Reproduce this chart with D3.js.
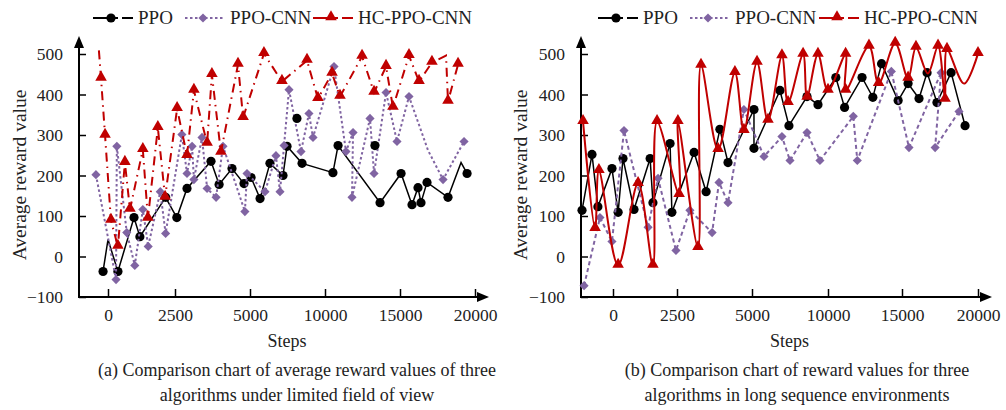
<!DOCTYPE html>
<html>
<head>
<meta charset="utf-8">
<script src="https://cdn.jsdelivr.net/npm/d3@7"></script>
<style>
  body { margin: 0; background: #fff; }
  text { font-family: "Liberation Serif", "Times New Roman", serif; fill: #222; }
</style>
</head>
<body>
<svg id="chart" width="1006" height="410"></svg>
<script>
// step ticks (axis is piecewise, not linear)
const stepTicks = [0, 2500, 5000, 10000, 15000, 20000];
const rewardTicks = [-100, 0, 100, 200, 300, 400, 500];
const seriesNames = ['PPO', 'PPO-CNN', 'HC-PPO-CNN'];

// panel (a) - limited field of view; third item 0 = no marker
const ppoA = [[-185,-37],[0,42,0],[370,-37],[970,96],[1190,49],[2150,146],[2560,96],[2900,168],[3700,235],[3970,178],[4400,217],[4800,180],[5070,195],[5670,143],[6330,230],[7200,200],[7470,272],[8470,230],[10530,207],[10870,274],[13670,133],[15070,205],[15800,128],[16200,170],[16400,133],[16800,183],[18200,146],[19070,232,0],[19470,205]];
const ppoLooseA = [[8130,341],[13330,274]];
const ppoCnnA = [[-450,202],[300,-57],[330,272],[700,59],[1000,-22],[1300,116],[1500,25],[1950,160],[2150,57],[2730,301],[2900,205],[3070,272],[3130,190],[3400,294],[3570,168],[3870,146],[4100,272],[4830,111],[4900,205],[6000,160],[6730,249],[7000,160],[7270,274],[7600,412],[8400,259],[8930,353],[9200,294],[10600,469],[11400,259],[11870,306],[11800,146],[13000,341],[13270,205],[14070,405],[14800,284],[15600,395],[16870,262,0],[17870,190],[19270,284]];
const hcA = [[-340,509,0],[-260,440],[-110,299],[110,89],[370,25],[630,232],[820,116],[1300,264],[1490,94],[1860,318],[2130,146],[2570,365],[2900,249],[3130,410],[3570,279],[3730,449],[4030,257],[4600,474],[4770,343],[5930,501],[7130,432],[8800,484],[9530,390],[10470,452],[11000,395],[12470,494],[13270,405],[14070,469],[14530,368],[15600,496],[16270,432],[17130,479],[18070,496,0],[18200,383],[18870,474]];

// panel (b) - long sequence environments
const ppoB = [[-1210,114],[-820,252],[-590,123],[-40,217],[200,109],[390,242],[820,116],[1450,242],[1560,133],[2230,279],[2300,109],[3070,257],[3470,160],[3930,314],[4200,232],[5130,363],[5130,267],[6840,410],[7430,323],[8620,395],[9340,375],[10530,442],[11120,368],[12300,442],[13030,393],[13620,476],[14740,385],[15400,427],[16120,390],[16650,454],[17300,380],[18230,454],[19150,323]];
const ppoCnnB = [[-1130,-72],[-510,96],[-40,37],[430,311],[1370,72],[1760,193],[2460,15],[2930,114],[3670,59],[3900,183],[4200,133],[4730,363],[5790,247],[6970,296],[7500,237],[8620,306],[9470,237],[11710,346],[11980,237],[14280,457],[15460,269],[17570,454],[17180,269],[18750,358]];
const hcB = [[-1170,333],[-700,69],[-550,212],[200,-22],[980,180],[1560,-22],[1720,333],[2570,153],[2530,333],[3200,22],[3300,472],[3870,264],[4430,454],[4730,311],[5330,479],[6050,336],[6970,495],[7370,380],[8360,499],[8620,393],[9340,499],[10000,410],[11190,499],[11190,410],[12770,519],[13420,427],[14540,526],[15400,440],[15920,516],[16700,452,0],[17370,519],[17830,388],[17960,511],[19080,427,0],[20000,501]];

const captionA = ['(a) Comparison chart of average reward values of three', 'algorithms under limited field of view'];
const captionB = ['(b) Comparison chart of reward values for three', 'algorithms in long sequence environments'];

const svg = d3.select('#chart');
const black = '#000', purple = '#8064a2', red = '#c00000';

const styles = [
  { color: black, width: 1.5, legendDash: '25,4,11', marker: 'circle' },
  { color: purple, width: 2, legendDash: '2.5,2.5', marker: 'diamond' },
  { color: red, width: 2, legendDash: '25,4,11', marker: 'triangle' }
];

function addMarker(g, kind, color, x, y) {
  if (kind === 'circle') {
    g.append('circle').attr('cx', x).attr('cy', y).attr('r', 4.6).attr('fill', color);
  } else if (kind === 'diamond') {
    g.append('path').attr('d', d3.symbol(d3.symbolSquare, 42)())
      .attr('transform', `translate(${x},${y}) rotate(45)`).attr('fill', color);
  } else {
    g.append('path').attr('d', d3.symbol(d3.symbolTriangle, 58)())
      .attr('transform', `translate(${x},${y - 1})`).attr('fill', color);
  }
}

function panel(cfg) {
  const g = svg.append('g');
  const x = d3.scaleLinear().domain(stepTicks).range(cfg.xr);
  const y = d3.scaleLinear().domain([-100, 500]).range([297, 54]);
  const x0 = cfg.axisX;

  // axes
  g.append('g').attr('transform', 'translate(0,297)')
    .call(d3.axisBottom(x).tickValues(stepTicks).tickFormat(d3.format('d'))
      .tickSizeInner(-8).tickSizeOuter(0).tickPadding(12))
    .call(a => a.select('.domain').remove())
    .call(a => a.selectAll('line').attr('stroke', black).attr('stroke-width', 1.5))
    .call(a => a.selectAll('text').attr('font-size', 17.5).attr('fill', '#222')
      .attr('font-family', '"Liberation Serif", serif'));

  g.append('g').attr('transform', `translate(${x0},0)`)
    .call(d3.axisLeft(y).tickValues(rewardTicks).tickSizeInner(-7).tickSizeOuter(0).tickPadding(16))
    .call(a => a.select('.domain').remove())
    .call(a => a.selectAll('line').attr('stroke', black).attr('stroke-width', 1.5))
    .call(a => a.selectAll('text').attr('font-size', 17.5).attr('fill', '#222')
      .attr('font-family', '"Liberation Serif", serif'));

  g.append('line').attr('x1', x0).attr('x2', x0).attr('y1', 298).attr('y2', 45)
    .attr('stroke', black).attr('stroke-width', 2);
  g.append('line').attr('x1', x0 - 1).attr('x2', cfg.arrowX - 8).attr('y1', 297).attr('y2', 297)
    .attr('stroke', black).attr('stroke-width', 2);
  g.append('path').attr('d', `M${x0},36 L${x0 - 5},48 L${x0 + 5},48 Z`).attr('fill', black);
  g.append('path').attr('d', `M${cfg.arrowX},297 L${cfg.arrowX - 12},292 L${cfg.arrowX - 12},302 Z`).attr('fill', black);

  // series
  cfg.series.forEach((data, i) => {
    const st = styles[i];
    const line = d3.line().x(d => x(d[0])).y(d => y(d[1]));
    if (cfg.curve && i === 2) line.curve(d3.curveCatmullRom.alpha(0.5));
    g.append('path').datum(data).attr('d', line).attr('fill', 'none')
      .attr('stroke', st.color).attr('stroke-width', st.width)
      .attr('stroke-dasharray', cfg.dashes[i]);
    data.filter(d => d[2] !== 0).forEach(d => addMarker(g, st.marker, st.color, x(d[0]), y(d[1])));
  });
  (cfg.loose || []).forEach(d => addMarker(g, 'circle', black, x(d[0]), y(d[1])));

  // legend
  cfg.legend.forEach((lx, i) => {
    const st = styles[i];
    g.append('line').attr('x1', lx).attr('x2', lx + 40).attr('y1', 18).attr('y2', 18)
      .attr('stroke', st.color).attr('stroke-width', 2).attr('stroke-dasharray', st.legendDash);
    addMarker(g, st.marker, st.color, lx + 18, 18);
    g.append('text').attr('x', lx + 45).attr('y', 24).attr('font-size', 19).text(seriesNames[i]);
  });

  // titles
  g.append('text').attr('transform', `translate(${cfg.titleX},175) rotate(-90)`)
    .attr('text-anchor', 'middle').attr('font-size', 19.5).text('Average reward value');
  g.append('text').attr('x', (x0 + cfg.arrowX) / 2 + 3).attr('y', 347)
    .attr('text-anchor', 'middle').attr('font-size', 18).text('Steps');
  cfg.caption.forEach((t, k) => {
    g.append('text').attr('x', cfg.capX).attr('y', 376 + k * 25)
      .attr('text-anchor', 'middle').attr('font-size', 18).text(t);
  });
}

panel({
  xr: [108, 175, 250, 325, 400, 475], axisX: 79, arrowX: 489, titleX: 26,
  series: [ppoA, ppoCnnA, hcA], loose: ppoLooseA,
  dashes: [null, '2.5,2.5', '9,5,1.5,5'], curve: false,
  legend: [93, 185, 313], caption: captionA, capX: 297
});
panel({
  xr: [613, 677, 752, 828, 902, 978], axisX: 581, arrowX: 992, titleX: 527,
  series: [ppoB, ppoCnnB, hcB],
  dashes: [null, '4,3', null], curve: true,
  legend: [598, 690, 819], caption: captionB, capX: 797
});
</script>
</body>
</html>
